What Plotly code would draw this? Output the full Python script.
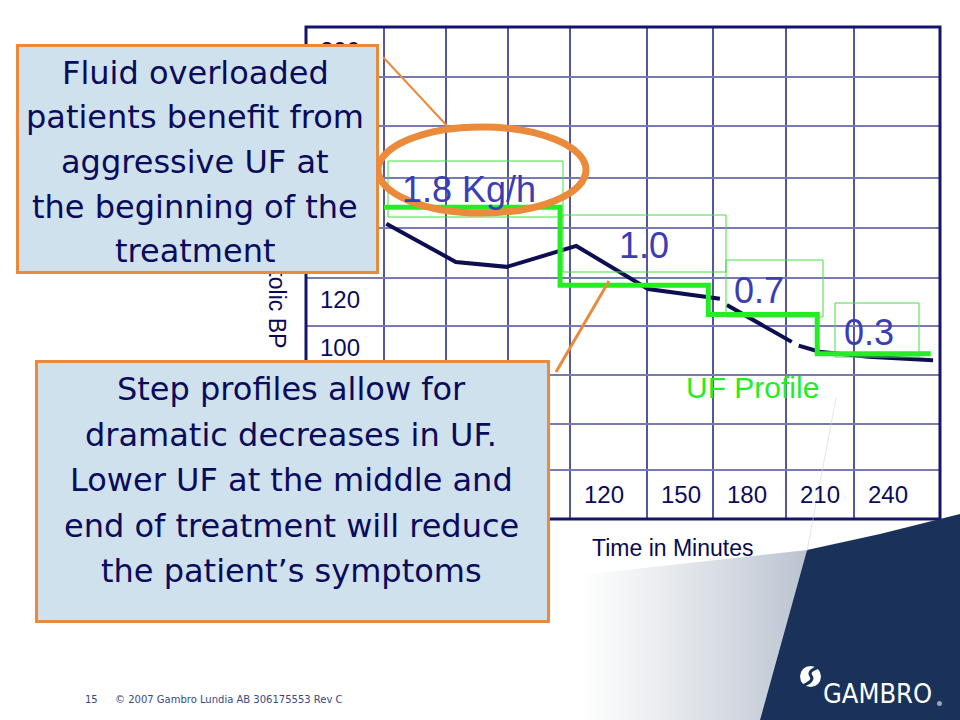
import plotly.graph_objects as go

# ---------------- data ----------------
bp_time = [1, 31, 53, 83, 114, 145, None, 148, 176, None, 179, 188, 209, 237]
bp_value = [150, 134.5, 132.5, 141, 123.5, 119.5, None, 117, 102, None, 100.5, 98, 96, 94.5]

uf_time = [0, 76, 140, 187, 236]
uf_rate = [1.8, 1.0, 0.7, 0.3, 0.3]
uf_labels = ["1.8 Kg/h", "1.0", "0.7", "0.3"]

time_labels = ["120", "150", "180", "210", "240"]
time_label_cols = [4, 5, 6, 7, 8]
bp_labels = ["200", "120", "100"]
bp_label_rows = [0, 5, 6]

x_title = "Time in Minutes"
y_title = "Systolic BP"
series_title = "UF Profile"

callout_top = ["Fluid overloaded", "patients benefit from", "aggressive UF at",
               "the beginning of the", "treatment"]
callout_bottom = ["Step profiles allow for", "dramatic decreases in UF.",
                  "Lower UF at the middle and", "end of treatment will reduce",
                  "the patient\u2019s symptoms"]
footer_page = "15"
footer_text = "\u00a9 2007 Gambro Lundia AB 306175553 Rev C"
brand = "GAMBRO"

# ---------------- layout constants ----------------
W, H = 960, 720
COL_EDGES = [306, 384, 446, 508, 570, 647, 713, 786, 854, 940]
ROW_EDGES = [27, 77, 126, 178, 228, 278, 326, 375, 424, 470, 519]
NAVY = "#0b0b5c"
ORANGE = "#ec8a3b"
BOXFILL = "#cfe1ec"
GREEN = "#22ee22"
LBLUE = "#3a3db3"


def px(x):
    return x / W


def py(y):
    return 1 - y / H


def ann(x, y, s, size, color=NAVY, family="Liberation Sans", xanchor="center",
        yanchor="middle", **kw):
    d = dict(xref="paper", yref="paper", x=px(x), y=py(y), text=s, showarrow=False,
             xanchor=xanchor, yanchor=yanchor,
             font=dict(size=size, color=color, family=family))
    d.update(kw)
    return d


fig = go.Figure()

# decorative background (bottom-right slide art)
fig.add_trace(go.Scatter(
    x=[580, 807, 760, 580, 580], y=[575, 550, 720, 720, 575],
    fill="toself", mode="lines", line=dict(width=0),
    fillgradient=dict(type="horizontal",
                      colorscale=[[0, "rgba(200,206,216,0)"], [1, "rgba(186,195,208,1)"]]),
    xaxis="x3", yaxis="y3", hoverinfo="skip"))
fig.add_trace(go.Scatter(
    x=[807, 840, 880, 920, 960, 960, 760, 807],
    y=[550, 543, 534, 524, 514, 720, 720, 550],
    fill="toself", mode="lines", line=dict(width=0), fillcolor="#1a3259",
    xaxis="x3", yaxis="y3", hoverinfo="skip"))
fig.add_trace(go.Scatter(
    x=[836, 807], y=[398, 551], mode="lines",
    line=dict(width=1, color="rgba(205,210,220,0.6)"),
    xaxis="x3", yaxis="y3", hoverinfo="skip"))

# data series
fig.add_trace(go.Scatter(x=bp_time, y=bp_value, mode="lines",
                         line=dict(color="#0d0d52", width=4), name=y_title,
                         connectgaps=False))
fig.add_trace(go.Scatter(x=uf_time, y=uf_rate, mode="lines", yaxis="y2",
                         line=dict(color=GREEN, width=5, shape="hv"), name=series_title))

shapes = []
# table grid
for x in COL_EDGES[1:-1]:
    shapes.append(dict(type="line", xref="paper", yref="paper", x0=px(x), x1=px(x),
                       y0=py(ROW_EDGES[0]), y1=py(ROW_EDGES[-1]),
                       line=dict(color="#1e1e78", width=1.5), layer="below"))
for y in ROW_EDGES[1:-1]:
    shapes.append(dict(type="line", xref="paper", yref="paper", x0=px(COL_EDGES[0]),
                       x1=px(COL_EDGES[-1]), y0=py(y), y1=py(y),
                       line=dict(color="#7a7ab2", width=2), layer="below"))
shapes.append(dict(type="rect", xref="paper", yref="paper", x0=px(COL_EDGES[0]),
                   x1=px(COL_EDGES[-1]), y0=py(ROW_EDGES[-1]), y1=py(ROW_EDGES[0]),
                   line=dict(color="#14146e", width=3), layer="below"))

# thin green label frames
for (x0, y0, x1, y1) in [(388, 161, 563, 217), (563, 215, 726, 272),
                         (726, 260, 823, 317), (835, 303, 919, 357)]:
    shapes.append(dict(type="rect", xref="paper", yref="paper", x0=px(x0), x1=px(x1),
                       y0=py(y1), y1=py(y0), line=dict(color="#44dd44", width=1)))

# orange highlight + connectors
shapes.append(dict(type="circle", xref="paper", yref="paper", x0=px(378), x1=px(586),
                   y0=py(213), y1=py(127), line=dict(color=ORANGE, width=7)))
shapes.append(dict(type="line", xref="paper", yref="paper", x0=px(383), y0=py(57),
                   x1=px(449), y1=py(128), line=dict(color=ORANGE, width=2)))
shapes.append(dict(type="line", xref="paper", yref="paper", x0=px(556), y0=py(372),
                   x1=px(609), y1=py(281), line=dict(color=ORANGE, width=3)))

# logo symbol
shapes.append(dict(type="circle", xref="paper", yref="paper", x0=px(800), x1=px(821),
                   y0=py(687), y1=py(666), fillcolor="white", line=dict(width=0)))
shapes.append(dict(type="path", xref="paper", yref="paper",
                   path=f"M {px(819)} {py(667)} Q {px(807)} {py(671)} {px(811)} {py(676)} "
                        f"Q {px(815)} {py(681)} {px(802)} {py(686)}",
                   line=dict(color="#1a3259", width=3)))
shapes.append(dict(type="circle", xref="paper", yref="paper", x0=px(937), x1=px(942),
                   y0=py(706), y1=py(701), fillcolor="#9aa4b8", line=dict(width=0)))

annotations = []
# row labels and time labels (table cells)
for lab, r in zip(bp_labels, bp_label_rows):
    yc = (ROW_EDGES[r] + ROW_EDGES[r + 1]) / 2 + (-1 if r == 0 else -3)
    annotations.append(ann(COL_EDGES[0] + 12, yc, lab, 24, xanchor="left"))
for lab, c in zip(time_labels, time_label_cols):
    annotations.append(ann(COL_EDGES[c] + 12, 494, lab, 24, xanchor="left"))

annotations.append(ann(672, 548, x_title, 23, color="#0a0a50"))
annotations.append(ann(277, 290, y_title, 23, color="#0a0a50", textangle=90))

# UF labels
annotations.append(ann(400, 190, uf_labels[0], 36, color=LBLUE, xanchor="left"))
annotations.append(ann(644, 245, uf_labels[1], 36, color=LBLUE))
annotations.append(ann(759, 290, uf_labels[2], 36, color=LBLUE))
annotations.append(ann(869, 332, uf_labels[3], 36, color=LBLUE))
annotations.append(ann(752, 387, series_title, 30, color=GREEN))

# callout boxes
annotations.append(dict(xref="paper", yref="paper", x=px(16), y=py(44), xanchor="left",
                        yanchor="top", text=" ", showarrow=False, width=357, height=224,
                        bgcolor=BOXFILL, bordercolor=ORANGE, borderwidth=3, borderpad=0))
for i, s in enumerate(callout_top):
    annotations.append(ann(195, 73 + i * 44.5, s, 32, family="DejaVu Sans"))
annotations.append(dict(xref="paper", yref="paper", x=px(35), y=py(360), xanchor="left",
                        yanchor="top", text=" ", showarrow=False, width=509, height=257,
                        bgcolor=BOXFILL, bordercolor=ORANGE, borderwidth=3, borderpad=0))
for i, s in enumerate(callout_bottom):
    annotations.append(ann(291, 389 + i * 45.5, s, 32, family="DejaVu Sans"))

# footer + brand
annotations.append(ann(83, 699, footer_page, 10, color="#3b4a80", family="DejaVu Sans",
                       xanchor="left"))
annotations.append(ann(113, 699, footer_text, 10, color="#3b4a80", family="DejaVu Sans",
                       xanchor="left"))
annotations.append(ann(821, 693, brand, 27, color="white",
                       family="Liberation Sans Narrow, DejaVu Sans Condensed, Liberation Sans",
                       xanchor="left"))

px_per_min = (COL_EDGES[-1] - COL_EDGES[1]) / 240.0
x_lo = (COL_EDGES[0] - COL_EDGES[1]) / px_per_min

fig.update_layout(
    width=W, height=H, margin=dict(l=0, r=0, t=0, b=0),
    paper_bgcolor="white", plot_bgcolor="rgba(0,0,0,0)", showlegend=False,
    xaxis=dict(domain=[px(COL_EDGES[0]), px(COL_EDGES[-1])], range=[x_lo, 240], visible=False),
    yaxis=dict(domain=[py(ROW_EDGES[-1]), py(ROW_EDGES[0])], range=[30, 230], visible=False),
    yaxis2=dict(overlaying="y", range=[-1.395, 3.648], visible=False),
    xaxis3=dict(domain=[0, 1], range=[0, W], visible=False, anchor="y3"),
    yaxis3=dict(domain=[0, 1], range=[H, 0], visible=False, anchor="x3"),
    shapes=shapes, annotations=annotations,
)

fig.write_html("out.html", post_script="document.body.style.margin='0px';",
               config={"displayModeBar": False})
